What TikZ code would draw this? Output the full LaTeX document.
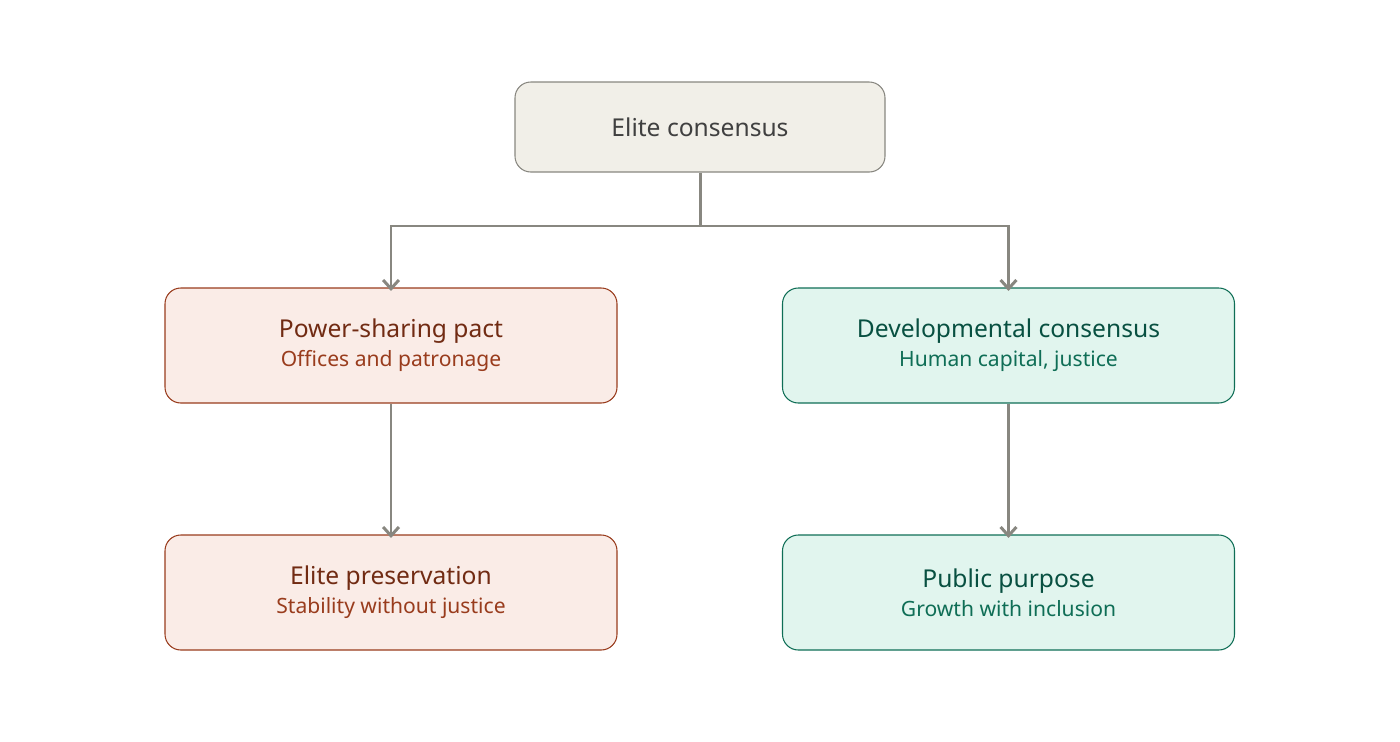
\documentclass[tikz,border=0pt]{standalone}
\usepackage{fontspec}
\setmainfont{Noto Sans}
\usetikzlibrary{arrows.meta, calc, positioning}
\definecolor{topfill}{HTML}{F1EFE8}
\definecolor{redfill}{HTML}{FAECE7}
\definecolor{redline}{HTML}{993C1D}
\definecolor{redtext}{HTML}{712B13}
\definecolor{greenfill}{HTML}{E1F5EE}
\definecolor{greenline}{HTML}{0F6E56}
\definecolor{greentext}{HTML}{085041}
\definecolor{link}{HTML}{888780}
\tikzset{
  box/.style={draw, rounded corners=9pt, align=center, inner sep=0pt, line width=0.6pt},
  redbox/.style={box, draw=redline, fill=redfill, minimum width=452*0.02cm, minimum height=115*0.02cm},
  greenbox/.style={box, draw=greenline, fill=greenfill, minimum width=452*0.02cm, minimum height=115*0.02cm},
  flow/.style={draw=link, line width=1.7pt, -{Straight Barb[length=5pt, width=9pt]}},
}
\newcommand{\boxtext}[3]{{\fontsize{14}{18}\selectfont\bfseries\color{#1}#2}\\[2pt]{\fontsize{12}{15}\selectfont\color{#3}}}
\begin{document}
\begin{tikzpicture}[x=0.02cm, y=-0.02cm]
  \useasboundingbox (0,0) rectangle (1400,741);
  \node[box, draw=link, fill=topfill, minimum width=370*0.02cm, minimum height=90*0.02cm,
        font=\fontsize{14}{18}\selectfont, text=black!75] (elite) at (700,127) {Elite consensus};

  \node[redbox] (pact) at (391,345.5) {{\fontsize{14}{18}\selectfont\bfseries\color{redtext}Power-sharing pact}\\[3pt]{\fontsize{12}{15}\selectfont\color{redline}Offices and patronage}};
  \node[redbox] (preserve) at (391,592.5) {{\fontsize{14}{18}\selectfont\bfseries\color{redtext}Elite preservation}\\[3pt]{\fontsize{12}{15}\selectfont\color{redline}Stability without justice}};
  \node[greenbox] (devel) at (1008.5,345.5) {{\fontsize{14}{18}\selectfont\bfseries\color{greentext}Developmental consensus}\\[3pt]{\fontsize{12}{15}\selectfont\color{greenline}Human capital, justice}};
  \node[greenbox] (public) at (1008.5,592.5) {{\fontsize{14}{18}\selectfont\bfseries\color{greentext}Public purpose}\\[3pt]{\fontsize{12}{15}\selectfont\color{greenline}Growth with inclusion}};

  \coordinate (split) at (700,226);
  \draw[draw=link, line width=1.7pt] (elite.south) -- (split);
  \draw[flow] (split) -| ([yshift=-2pt]pact.north);
  \draw[flow] (split) -| ([yshift=-2pt]devel.north);
  \draw[flow] (pact) -- ([yshift=-2pt]preserve.north);
  \draw[flow] (devel) -- ([yshift=-2pt]public.north);
\end{tikzpicture}
\end{document}
